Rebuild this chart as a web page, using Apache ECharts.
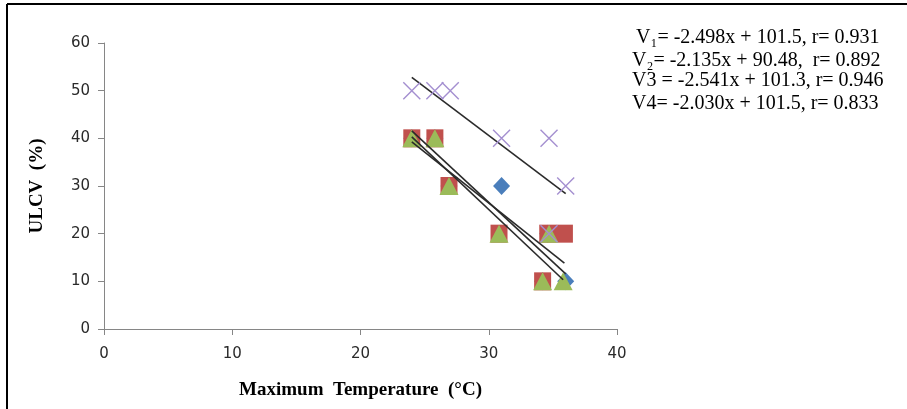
<!DOCTYPE html>
<html>
<head>
<meta charset="utf-8">
<script src="https://cdn.jsdelivr.net/npm/echarts@6/dist/echarts.min.js"></script>
<style>
  html, body { margin: 0; padding: 0; background: #fff; }
  #chart { width: 907px; height: 409px; }
</style>
</head>
<body>
<div id="chart"></div>
<script>
// temperatures (x) and ULCV (y) per variety
const v1X = [24, 25.8, 26.9, 31, 34.6, 34.2, 36]
const v1Y = [40, 40, 30, 30, 20, 10, 10]
const v2X = [24, 25.8, 26.9, 30.8, 34.6, 35.9, 34.2]
const v2Y = [40, 40, 30, 20, 20, 20, 10]
const v3X = [24, 25.8, 26.9, 30.8, 34.7, 34.2, 35.8]
const v3Y = [40, 40, 30, 20, 20, 10, 10]
const v4X = [24, 25.8, 27, 31, 34.7, 36, 34.7]
const v4Y = [50, 50, 50, 40, 40, 30, 20]

// trend lines as printed in the chart
const slopes = [-2.498, -2.135, -2.541, -2.030]
const intercepts = [101.5, 90.48, 101.3, 101.5]
const equations = [
  'V\u2081= -2.498x + 101.5, r= 0.931',
  'V\u2082= -2.135x + 90.48,  r= 0.892',
  'V3 = -2.541x + 101.3, r= 0.946',
  'V4= -2.030x + 101.5, r= 0.833'
]

const pts = (xs, ys) => xs.map((x, i) => [x, ys[i]])
const trend = (i, xs) => {
  const lo = Math.min(...xs), hi = Math.max(...xs)
  return [[lo, slopes[i] * lo + intercepts[i]], [hi, slopes[i] * hi + intercepts[i]]]
}

const chart = echarts.init(document.getElementById('chart'))
const axisCommon = {
  axisLine: { show: true, lineStyle: { color: '#868686', width: 1 } },
  axisTick: { show: true, length: 6, lineStyle: { color: '#868686' } },
  splitLine: { show: false },
  axisLabel: { color: '#2a2a2a', fontFamily: 'DejaVu Sans', fontSize: 15 }
}
const titleFont = { fontFamily: 'Liberation Serif', fontWeight: 'bold', fontSize: 19, color: '#000' }

const lineSeries = (data) => ({
  type: 'line',
  data: data,
  symbol: 'none',
  lineStyle: { color: '#2b2b2b', width: 1.6 },
  z: 5,
  silent: true
})

chart.setOption({
  animation: false,
  grid: { left: 104, right: 290, top: 43, bottom: 80 },
  xAxis: {
    type: 'value', min: 0, max: 40, interval: 10,
    ...axisCommon,
    axisLabel: { ...axisCommon.axisLabel, margin: 18 },
    name: 'Maximum  Temperature  (\u00b0C)',
    nameLocation: 'middle',
    nameGap: 52,
    nameTextStyle: titleFont
  },
  yAxis: {
    type: 'value', min: 0, max: 60, interval: 10,
    ...axisCommon,
    axisLabel: { ...axisCommon.axisLabel, margin: 14 },
    name: 'ULCV  (%)',
    nameLocation: 'middle',
    nameGap: 57,
    nameTextStyle: titleFont
  },
  series: [
    { type: 'scatter', data: pts(v1X, v1Y), symbol: 'diamond', symbolSize: [17, 18],
      itemStyle: { color: '#4a7ebb', opacity: 1 }, z: 2 },
    { type: 'scatter', data: pts(v2X, v2Y), symbol: 'rect', symbolSize: [17, 18],
      itemStyle: { color: '#c0504d', opacity: 1 }, z: 3 },
    { type: 'scatter', data: pts(v3X, v3Y), symbol: 'triangle', symbolSize: [19, 18],
      itemStyle: { color: '#9bbb59', opacity: 1 }, z: 4 },
    { type: 'scatter', data: pts(v4X, v4Y),
      symbol: 'path://M0,0L10,10M10,0L0,10', symbolSize: 17,
      itemStyle: { color: 'none', borderColor: '#a48fd0', borderWidth: 1.4, opacity: 1 }, z: 6 },
    lineSeries(trend(0, v1X)),
    lineSeries(trend(1, v2X)),
    lineSeries(trend(2, v3X)),
    lineSeries(trend(3, v4X))
  ],
  graphic: [
    { type: 'line', shape: { x1: 7, y1: 4, x2: 7, y2: 409 }, style: { stroke: '#000', lineWidth: 2 } },
    { type: 'line', shape: { x1: 7, y1: 4, x2: 907, y2: 4 }, style: { stroke: '#000', lineWidth: 2 } },
    ...equations.map((t, i) => ({
      type: 'text',
      left: i === 0 ? 636 : 632,
      top: [28, 51, 71, 94][i],
      style: { text: t, fontFamily: 'Liberation Serif', fontSize: 20, fill: '#000' }
    }))
  ]
})
</script>
</body>
</html>
